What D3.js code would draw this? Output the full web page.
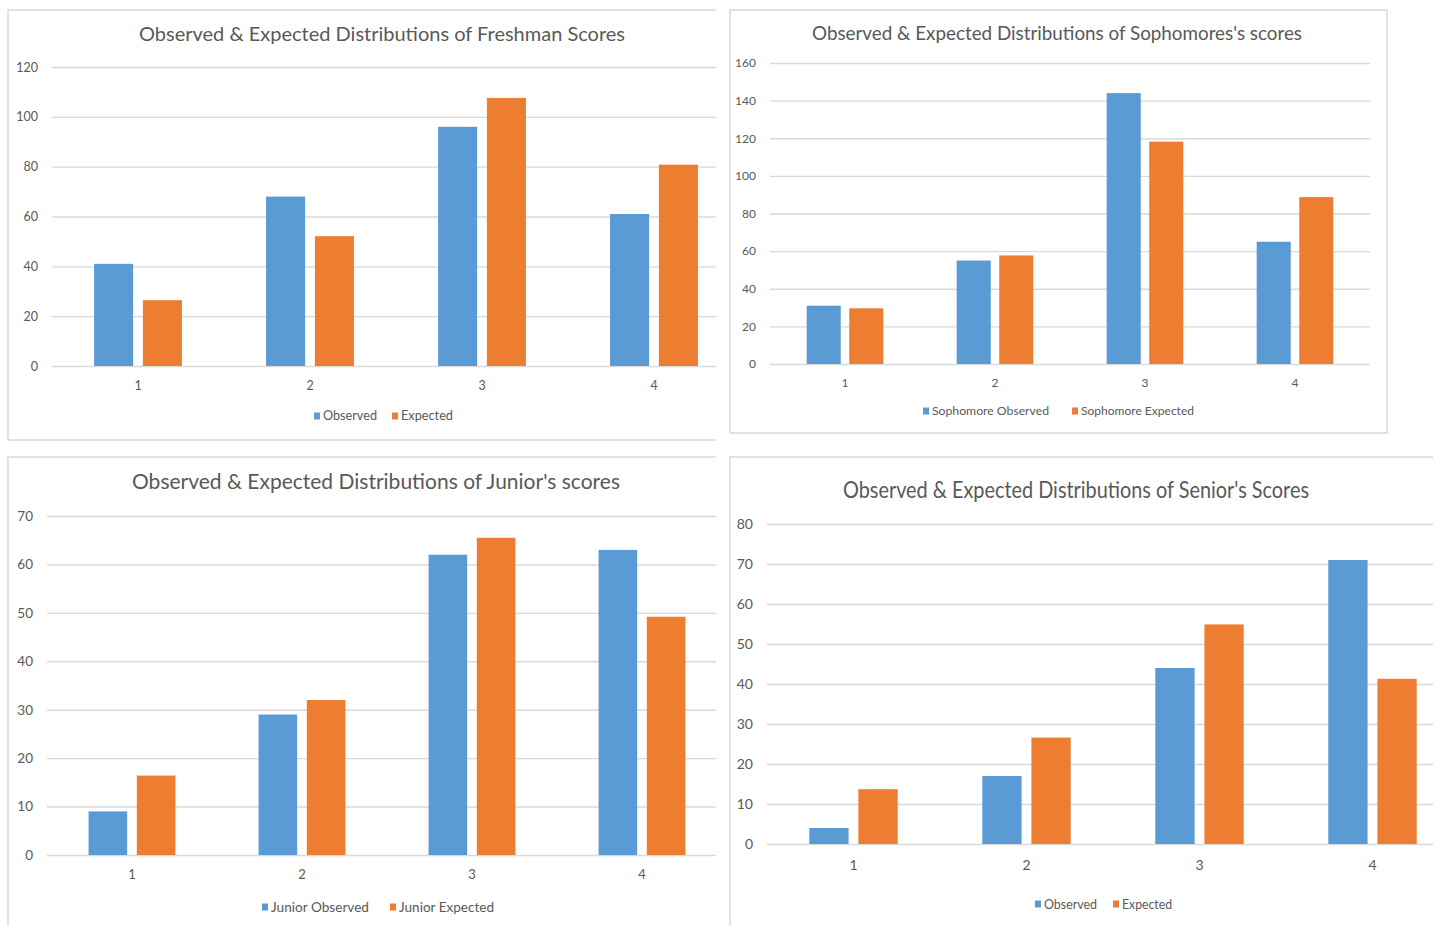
<!DOCTYPE html>
<html>
<head>
<meta charset="utf-8">
<script src="https://cdn.jsdelivr.net/npm/d3@7"></script>
<style>
  html, body { margin: 0; padding: 0; background: #ffffff; }
  svg { display: block; }
</style>
</head>
<body>
<svg id="chart" width="1438" height="926"></svg>
<script>
// ---- data ----
const categories = ["1", "2", "3", "4"];
const seriesKeys = ["observed", "expected"];

const freshmanObserved = [41, 68, 96, 61];
const freshmanExpected = [26.4, 52.1, 107.6, 80.8];
const sophomoreObserved = [31, 55, 144, 65];
const sophomoreExpected = [29.6, 57.7, 118.2, 88.7];
const juniorObserved = [9, 29, 62, 63];
const juniorExpected = [16.4, 32.0, 65.5, 49.2];
const seniorObserved = [4, 17, 44, 71];
const seniorExpected = [13.7, 26.6, 54.9, 41.3];

const freshmanTicks = [0, 20, 40, 60, 80, 100, 120];
const sophomoreTicks = [0, 20, 40, 60, 80, 100, 120, 140, 160];
const juniorTicks = [0, 10, 20, 30, 40, 50, 60, 70];
const seniorTicks = [0, 10, 20, 30, 40, 50, 60, 70, 80];

const freshmanLegend = ["Observed", "Expected"];
const sophomoreLegend = ["Sophomore Observed", "Sophomore Expected"];
const juniorLegend = ["Junior Observed", "Junior Expected"];
const seniorLegend = ["Observed", "Expected"];

const titles = [
  "Observed & Expected Distributions of Freshman Scores",
  "Observed & Expected Distributions of Sophomores's scores",
  "Observed & Expected Distributions of Junior's scores",
  "Observed & Expected Distributions of Senior's Scores"
];

// ---- styling ----
const colors = { observed: "#5B9BD5", expected: "#ED7D31" };
const textColor = "#595959";
const lineColor = "#D9D9D9";
const fontFamily = "Lato, 'Open Sans', sans-serif";

// ---- panel layout ----
const panels = [
  {
    title: titles[0], legend: freshmanLegend, ticks: freshmanTicks,
    values: { observed: freshmanObserved, expected: freshmanExpected },
    frame: { x: 8, y: 10, w: 760, h: 430 }, clip: { x: 0, y: 0, w: 716, h: 450 },
    plot: { x0: 52, x1: 740, top: 67, bottom: 366 },
    titleAt: { x: 382, y: 41, w: 486, size: 20 },
    tickFont: 12.5, catFont: 12.5, catPad: 15,
    legendAt: { y: 416, xs: [314, 392], ws: [54, 52], size: 12.5 }
  },
  {
    title: titles[1], legend: sophomoreLegend, ticks: sophomoreTicks,
    values: { observed: sophomoreObserved, expected: sophomoreExpected },
    frame: { x: 730, y: 10, w: 657, h: 423 }, clip: { x: 720, y: 0, w: 718, h: 450 },
    plot: { x0: 770, x1: 1370, top: 63, bottom: 364 },
    titleAt: { x: 1057, y: 40, w: 490, size: 20 },
    tickFont: 12, catFont: 12, catPad: 14,
    legendAt: { y: 411, xs: [923, 1072], ws: [117, 113], size: 12 }
  },
  {
    title: titles[2], legend: juniorLegend, ticks: juniorTicks,
    values: { observed: juniorObserved, expected: juniorExpected },
    frame: { x: 8, y: 457, w: 760, h: 520 }, clip: { x: 0, y: 450, w: 716, h: 476 },
    plot: { x0: 47, x1: 727, top: 516, bottom: 855 },
    titleAt: { x: 376, y: 489, w: 488, size: 21 },
    tickFont: 13.5, catFont: 13, catPad: 15,
    legendAt: { y: 907, xs: [262, 390], ws: [98, 95], size: 13.5 }
  },
  {
    title: titles[3], legend: seniorLegend, ticks: seniorTicks,
    values: { observed: seniorObserved, expected: seniorExpected },
    frame: { x: 730, y: 457, w: 760, h: 520 }, clip: { x: 720, y: 450, w: 713, h: 476 },
    plot: { x0: 767, x1: 1459, top: 524, bottom: 844 },
    titleAt: { x: 1076, y: 498, w: 466, size: 23 },
    tickFont: 14, catFont: 14, catPad: 16,
    legendAt: { y: 904, xs: [1035, 1113], ws: [53, 50], size: 14 }
  }
];

const svg = d3.select("#chart");
const defs = svg.append("defs");

panels.forEach((p, i) => {
  defs.append("clipPath").attr("id", "clip" + i)
    .append("rect")
    .attr("x", p.clip.x).attr("y", p.clip.y)
    .attr("width", p.clip.w).attr("height", p.clip.h);

  const g = svg.append("g").attr("clip-path", `url(#clip${i})`);

  // chart frame
  g.append("rect")
    .attr("x", p.frame.x).attr("y", p.frame.y)
    .attr("width", p.frame.w).attr("height", p.frame.h)
    .attr("fill", "#ffffff")
    .attr("stroke", lineColor).attr("stroke-width", 1.5);

  // title
  g.append("text")
    .attr("x", p.titleAt.x).attr("y", p.titleAt.y)
    .attr("text-anchor", "middle")
    .attr("font-family", fontFamily)
    .attr("font-size", p.titleAt.size)
    .attr("fill", textColor)
    .attr("textLength", p.titleAt.w)
    .attr("lengthAdjust", "spacingAndGlyphs")
    .text(p.title);

  const x = d3.scaleBand().domain(categories).range([p.plot.x0, p.plot.x1]).padding(0);
  const bw = x.bandwidth();
  const inner = d3.scaleBand().domain(seriesKeys)
    .range([bw * 0.2445, bw * 0.7555])
    .paddingInner(0.2).paddingOuter(0);
  const yMax = d3.max(p.ticks);
  const y = d3.scaleLinear().domain([0, yMax]).range([p.plot.bottom, p.plot.top]);

  // value axis with gridlines
  const yAxis = g.append("g")
    .attr("transform", `translate(${p.plot.x0},0)`)
    .call(d3.axisLeft(y).tickValues(p.ticks)
      .tickSize(-(p.plot.x1 - p.plot.x0)).tickPadding(14).tickFormat(d3.format("d")));
  yAxis.select(".domain").remove();
  yAxis.selectAll(".tick line").attr("stroke", lineColor).attr("stroke-width", 1.4);
  yAxis.selectAll(".tick text")
    .attr("fill", textColor)
    .attr("font-family", fontFamily)
    .attr("font-size", p.tickFont);

  // category axis
  const xAxis = g.append("g")
    .attr("transform", `translate(0,${p.plot.bottom})`)
    .call(d3.axisBottom(x).tickSize(0).tickPadding(p.catPad));
  xAxis.select(".domain").remove();
  xAxis.selectAll(".tick text")
    .attr("fill", textColor)
    .attr("font-family", fontFamily)
    .attr("font-size", p.catFont);

  // bars
  const rows = categories.map((c, j) => ({ cat: c, observed: p.values.observed[j], expected: p.values.expected[j] }));
  const groups = g.append("g").selectAll("g")
    .data(rows).join("g")
    .attr("transform", d => `translate(${x(d.cat)},0)`);
  groups.selectAll("rect")
    .data(d => seriesKeys.map(k => ({ key: k, value: d[k] })))
    .join("rect")
    .attr("x", d => inner(d.key))
    .attr("y", d => y(d.value))
    .attr("width", inner.bandwidth())
    .attr("height", d => y(0) - y(d.value))
    .attr("fill", d => colors[d.key]);

  // legend
  const lg = g.append("g");
  seriesKeys.forEach((k, j) => {
    const lx = p.legendAt.xs[j];
    lg.append("rect")
      .attr("x", lx).attr("y", p.legendAt.y - 3.5)
      .attr("width", 6).attr("height", 7)
      .attr("fill", colors[k]);
    lg.append("text")
      .attr("x", lx + 9).attr("y", p.legendAt.y)
      .attr("dy", "0.35em")
      .attr("font-family", fontFamily)
      .attr("font-size", p.legendAt.size)
      .attr("fill", textColor)
      .attr("textLength", p.legendAt.ws[j])
      .attr("lengthAdjust", "spacingAndGlyphs")
      .text(p.legend[j]);
  });
});
</script>
</body>
</html>
